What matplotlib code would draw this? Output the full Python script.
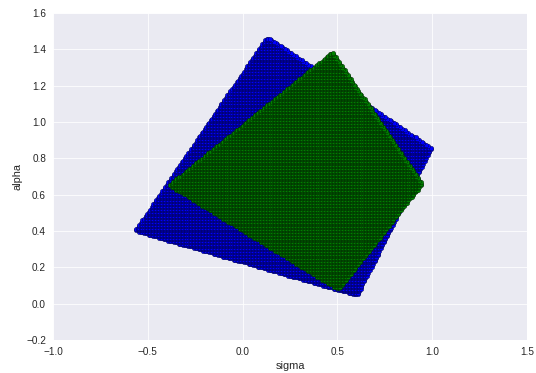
import numpy as np
import matplotlib.pyplot as plt
from matplotlib.path import Path
import seaborn as sns

sns.set_style("darkgrid")
plt.rcParams['font.family'] = ['Liberation Sans', 'DejaVu Sans']

# corners of the two sampled regions (sigma, alpha): left, top, right, bottom
blue_sigma = [-0.568, 0.13, 0.995, 0.605]
blue_alpha = [0.40, 1.47, 0.857, 0.043]
green_sigma = [-0.389, 0.474, 0.947, 0.505]
green_alpha = [0.653, 1.385, 0.659, 0.076]

# sampling step of the (sigma, alpha) grid
grid_step = 0.008

x_ticks = [-1.0, -0.5, 0.0, 0.5, 1.0, 1.5]
y_ticks = [-0.2, 0.0, 0.2, 0.4, 0.6, 0.8, 1.0, 1.2, 1.4, 1.6]


def grid_inside(cx, cy, step):
    # regular sigma/alpha grid, keep the points inside the quadrilateral
    xs = np.arange(min(cx), max(cx) + step, step)
    ys = np.arange(min(cy), max(cy) + step, step)
    gx, gy = np.meshgrid(xs, ys)
    pts = np.column_stack([gx.ravel(), gy.ravel()])
    poly = Path(np.column_stack([cx, cy]))
    keep = poly.contains_points(pts)
    return pts[keep, 0], pts[keep, 1]


fig = plt.figure(figsize=(536 / 72., 373 / 72.), dpi=72)
ax = fig.add_axes([0.0989, 0.0885, 0.8843, 0.8766])

bx, by = grid_inside(blue_sigma, blue_alpha, grid_step)
gx, gy = grid_inside(green_sigma, green_alpha, grid_step)

ax.scatter(bx, by, c='b', s=20, edgecolors='k', linewidths=0.3)
ax.scatter(gx, gy, c='g', s=20, edgecolors='k', linewidths=0.3)

ax.set_xlim(-1.0, 1.5)
ax.set_ylim(-0.2, 1.6)
ax.set_xticks(x_ticks)
ax.set_yticks(y_ticks)
ax.tick_params(labelsize=10, colors='.15')
ax.set_xlabel("sigma", fontsize=11, color='.15')
ax.set_ylabel("alpha", fontsize=11, color='.15')

fig.savefig("out.png", dpi=72)
